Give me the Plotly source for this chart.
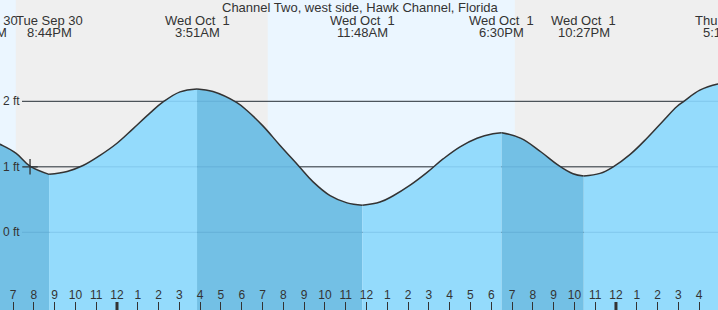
import pandas as pd
import plotly.graph_objects as go

# ---------------- data ----------------
tide_times = [
    "2025-09-30 17:38", "2025-09-30 18:22", "2025-09-30 19:09", "2025-09-30 19:49",
    "2025-09-30 20:44", "2025-09-30 21:36", "2025-09-30 22:22", "2025-09-30 23:11",
    "2025-10-01 00:00", "2025-10-01 00:46", "2025-10-01 01:35", "2025-10-01 02:13",
    "2025-10-01 03:02", "2025-10-01 03:51", "2025-10-01 04:37", "2025-10-01 05:46",
    "2025-10-01 06:15", "2025-10-01 07:01", "2025-10-01 07:50", "2025-10-01 08:45",
    "2025-10-01 09:26", "2025-10-01 10:15", "2025-10-01 11:04", "2025-10-01 11:48",
    "2025-10-01 12:39", "2025-10-01 13:16", "2025-10-01 14:06", "2025-10-01 14:55",
    "2025-10-01 15:41", "2025-10-01 16:30", "2025-10-01 17:19", "2025-10-01 18:05",
    "2025-10-01 18:30", "2025-10-01 19:26", "2025-10-01 20:23", "2025-10-01 21:12",
    "2025-10-01 21:56", "2025-10-01 22:27", "2025-10-01 23:14", "2025-10-01 23:52",
    "2025-10-02 00:41", "2025-10-02 01:30", "2025-10-02 02:16", "2025-10-02 02:56",
    "2025-10-02 03:16", "2025-10-02 04:02", "2025-10-02 04:54", "2025-10-02 05:17",
]
tide_heights = [
    1.45, 1.345, 1.205, 1.01,
    0.885, 0.93, 1.02, 1.175,
    1.36, 1.58, 1.82, 1.99,
    2.145, 2.19, 2.15, 1.98,
    1.86, 1.625, 1.33, 1.01,
    0.77, 0.56, 0.45, 0.415,
    0.462, 0.555, 0.72, 0.915,
    1.12, 1.305, 1.437, 1.505,
    1.52, 1.435, 1.23, 1.03,
    0.895, 0.86, 0.90, 1.00,
    1.19, 1.44, 1.70, 1.92,
    2.00, 2.17, 2.265, 2.28,
]

extreme_times = [
    "2025-09-30 17:38", "2025-09-30 20:44", "2025-10-01 03:51", "2025-10-01 11:48",
    "2025-10-01 18:30", "2025-10-01 22:27", "2025-10-02 05:17",
]
extreme_dates = ["Tue Sep 30", "Tue Sep 30", "Wed Oct\u00a0 1", "Wed Oct\u00a0 1",
                 "Wed Oct\u00a0 1", "Wed Oct\u00a0 1", "Thu Oct\u00a0 2"]
extreme_clock = ["5:38PM", "8:44PM", "3:51AM", "11:48AM", "6:30PM", "10:27PM", "5:17AM"]

night_starts = ["2025-09-30 19:08", "2025-10-01 19:08"]
night_ends = ["2025-10-01 07:15", "2025-10-02 07:15"]

midnights = ["2025-10-01 00:00", "2025-10-02 00:00"]

now_time = ["2025-09-30 19:49"]
now_height = [1.0]

level_ticks = [0, 1, 2]
level_labels = ["0 ft", "1 ft", "2 ft"]

title_text = "Channel Two, west side, Hawk Channel, Florida"

x_start = "2025-09-30 18:22:20"
x_end = "2025-10-02 04:54:29"
y_min, y_max = -1.186, 3.547

# ---------------- styles ----------------
W, H = 718, 310
FONT = "Liberation Sans, Arial, sans-serif"
TXT = "#333333"
DAY = "#ebf6ff"
NIGHT = "#efefef"
RISE = "#94dbfc"
FALL = "#73c0e5"
CURVE = "#333333"

df = pd.DataFrame({"t": pd.to_datetime(tide_times), "h": tide_heights})
ext = pd.to_datetime(extreme_times)
t0, t1 = pd.Timestamp(x_start), pd.Timestamp(x_end)


def paper_x(t):
    return (pd.Timestamp(t) - t0) / (t1 - t0)


fig = go.Figure()

# segments between extremes: fill to bottom of plot
for i in range(len(ext) - 1):
    a, b = ext[i], ext[i + 1]
    seg = df[(df.t >= a) & (df.t <= b)]
    rising = seg.h.iloc[-1] > seg.h.iloc[0]
    fig.add_trace(go.Scatter(
        x=[seg.t.iloc[0], seg.t.iloc[-1]], y=[y_min, y_min], mode="lines",
        line=dict(width=0), hoverinfo="skip", showlegend=False))
    fig.add_trace(go.Scatter(
        x=seg.t, y=seg.h, mode="lines", fill="tonexty",
        fillcolor=RISE if rising else FALL,
        line=dict(color=CURVE, width=1.5, shape="spline", smoothing=1.1),
        hoverinfo="skip", showlegend=False))

# current time marker
fig.add_trace(go.Scatter(
    x=pd.to_datetime(now_time), y=now_height, mode="markers",
    marker=dict(symbol="cross-thin", size=11, line=dict(color=CURVE, width=1.3)),
    hoverinfo="skip", showlegend=False))

shapes = []
for s, e in zip(night_starts, night_ends):
    shapes.append(dict(type="rect", xref="x", yref="paper", x0=s, x1=e, y0=0, y1=1,
                       fillcolor=NIGHT, line=dict(width=0), layer="below"))
for lv in level_ticks:
    shapes.append(dict(type="line", xref="paper", yref="y", x0=22 / W, x1=1, y0=lv, y1=lv,
                       line=dict(color="#333333", width=1), layer="below"))
    shapes.append(dict(type="line", xref="paper", yref="y", x0=22 / W, x1=1, y0=lv, y1=lv,
                       line=dict(color="rgba(0,70,120,0.13)", width=1), layer="above"))
for m in midnights:
    shapes.append(dict(type="line", xref="x", yref="paper", x0=m, x1=m, y0=0, y1=8 / H,
                       line=dict(color="#333333", width=3), layer="above"))

ann = [dict(text=title_text, xref="paper", yref="paper", x=360 / W, y=1 - 8 / H,
            showarrow=False, font=dict(family=FONT, size=13, color=TXT),
            xanchor="center", yanchor="middle")]
for t, d, c in zip(extreme_times, extreme_dates, extreme_clock):
    px_ = paper_x(t)
    ann.append(dict(text=d, xref="paper", yref="paper", x=px_, y=1 - 20.5 / H, showarrow=False,
                    font=dict(family=FONT, size=13, color=TXT), xanchor="center", yanchor="middle"))
    ann.append(dict(text=c, xref="paper", yref="paper", x=px_, y=1 - 32.5 / H, showarrow=False,
                    font=dict(family=FONT, size=13, color=TXT), xanchor="center", yanchor="middle"))
# level labels (as annotations so the inside hour labels are not hidden)
for lv, lab in zip(level_ticks, level_labels):
    ann.append(dict(text=lab, xref="paper", yref="y", x=2 / W, y=lv, showarrow=False,
                    font=dict(family=FONT, size=12, color=TXT), xanchor="left", yanchor="middle",
                    borderpad=0))

fig.update_layout(
    width=W, height=H, margin=dict(l=0, r=0, t=0, b=0, pad=0),
    paper_bgcolor=DAY, plot_bgcolor=DAY, showlegend=False,
    shapes=shapes, annotations=ann,
    font=dict(family=FONT, color=TXT),
)
fig.update_xaxes(
    type="date", range=[x_start, x_end], showgrid=False, zeroline=False, showline=False,
    tick0="2025-09-30 00:00", dtick=3600000, tickformat="%-I",
    ticks="inside", ticklen=8, tickwidth=1, tickcolor="#333333",
    ticklabelposition="inside", tickfont=dict(family=FONT, size=12, color=TXT),
)
fig.update_yaxes(
    range=[y_min, y_max], showgrid=False, zeroline=False, showline=False,
    showticklabels=False, ticks="",
)

fig.write_html("out.html")
